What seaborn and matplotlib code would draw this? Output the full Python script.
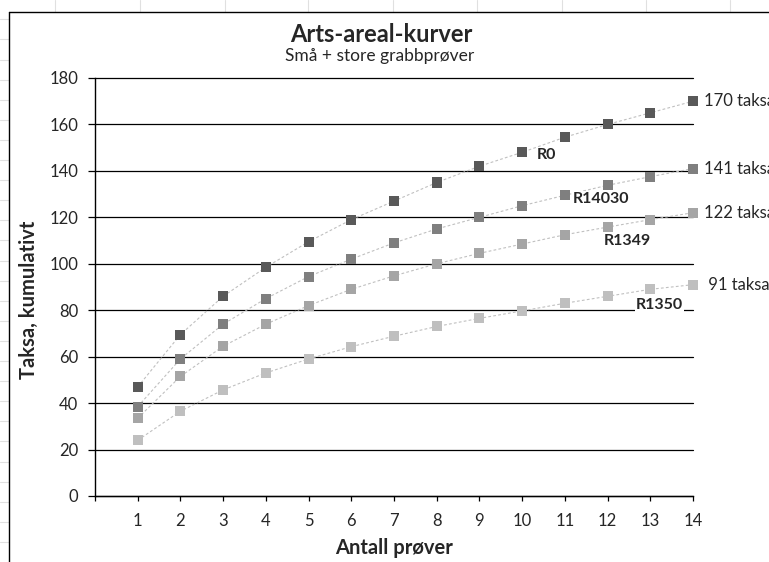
import numpy as np
import pandas as pd
import matplotlib
matplotlib.use("Agg")
import matplotlib.pyplot as plt
from matplotlib.lines import Line2D
import seaborn as sns

# Data
antall = list(range(1, 15))
r0 = [47, 69.5, 86, 98.5, 109.5, 119, 127, 135, 142, 148, 154.5, 160, 165, 170]
r14030 = [38.5, 59, 74, 85, 94.5, 102, 109, 115, 120, 125, 129.5, 133.8, 137.5, 141]
r1349 = [33.5, 51.5, 64.5, 74, 82, 89, 94.8, 100, 104.5, 108.5, 112.5, 115.8, 119, 122]
r1350 = [24, 36.5, 45.7, 53, 59, 64.3, 68.8, 73, 76.5, 79.7, 83, 86, 89, 91]
serier = ["R0", "R14030", "R1349", "R1350"]
sluttetiketter = ["170 taksa", "141 taksa", "122 taksa", " 91 taksa"]
farger = ["#595959", "#7f7f7f", "#a5a5a5", "#bfbfbf"]

df = pd.DataFrame({
    "antall": antall * 4,
    "taksa": r0 + r14030 + r1349 + r1350,
    "serie": [s for s in serier for _ in antall],
})

sns.set_style("white")
plt.rcParams["font.family"] = ["Lato", "DejaVu Sans"]

fig = plt.figure(figsize=(7.69, 5.62), dpi=100)
W, H = 769, 562
ax = fig.add_axes([95 / W, 1 - 496 / H, (693 - 95) / W, (496 - 78) / H])

# stiplede linjer mellom punktene
sns.lineplot(data=df, x="antall", y="taksa", units="serie", estimator=None,
             color="#c0c0c0", linewidth=0.8, linestyle=(0, (2.5, 2)), ax=ax,
             zorder=3, clip_on=False)
sns.scatterplot(data=df, x="antall", y="taksa", hue="serie", palette=farger,
                hue_order=serier, marker="s", s=52, linewidth=0, legend=False,
                ax=ax, zorder=4, clip_on=False)

ax.set_xlim(0, 14)
ax.set_ylim(0, 180)
ax.set_xticks(range(0, 15))
ax.set_xticklabels([""] + [str(i) for i in antall])
ax.set_yticks(range(0, 181, 20))
ax.grid(axis="y", color="black", linewidth=0.9)
ax.grid(axis="x", visible=False)
for gl in ax.get_ygridlines():
    gl.set_clip_on(False)
ax.set_axisbelow(True)

sns.despine(ax=ax, top=True, right=True)
for sp in ["left", "bottom"]:
    ax.spines[sp].set_color("black")
    ax.spines[sp].set_linewidth(1.0)
ax.tick_params(axis="y", direction="out", length=5, width=0.9, color="black",
               pad=7, labelsize=12, left=True)
ax.tick_params(axis="x", direction="out", length=3.5, width=0.9, color="black",
               pad=9, labelsize=12, bottom=True)

ax.set_xlabel("Antall prøver", fontsize=14.5, fontweight="bold", labelpad=6)
ax.set_ylabel("Taksa, kumulativt", fontsize=14.5, fontweight="bold")
ax.yaxis.set_label_coords(-0.093, 0.469)

fig.text(381 / W, 1 - 35 / H, "Arts-areal-kurver", ha="center", va="center",
         fontsize=17, fontweight="bold")
fig.text(380 / W, 1 - 56 / H, "Små + store grabbprøver", ha="center", va="center",
         fontsize=12.5)

# etiketter ved enden av kurvene
for verdier, tekst in zip([r0, r14030, r1349, r1350], sluttetiketter):
    ax.annotate(tekst, (antall[-1], verdier[-1]), xytext=(8, 0),
                textcoords="offset points", ha="left", va="center",
                fontsize=12, annotation_clip=False)

# serienavn
navnepos = [(10.35, 147), (11.19, 128), (11.9, 110), (12.66, 82.3)]
for (px, py), navn in zip(navnepos, serier):
    ax.text(px, py, navn, ha="left", va="center", fontsize=11.5, fontweight="bold",
            zorder=5, bbox=dict(facecolor="white", edgecolor="none", pad=0.5))

# svake regnearklinjer utenfor diagrammet
for xs in [55, 140, 225, 308, 393, 477, 562, 646, 730]:
    fig.add_artist(Line2D([xs / W, xs / W], [1, 1 - 12 / H], color="#e0e0e0", lw=0.8))
for ys in np.arange(19.3, H, 20.1):
    fig.add_artist(Line2D([0, 9 / W], [1 - ys / H, 1 - ys / H], color="#e0e0e0", lw=0.8))

# diagramramme
fig.add_artist(Line2D([9 / W, 9 / W], [0, 1 - 12 / H], color="black", lw=1.0))
fig.add_artist(Line2D([9 / W, 1], [1 - 12 / H, 1 - 12 / H], color="black", lw=1.0))

fig.savefig("out.png", dpi=100)
